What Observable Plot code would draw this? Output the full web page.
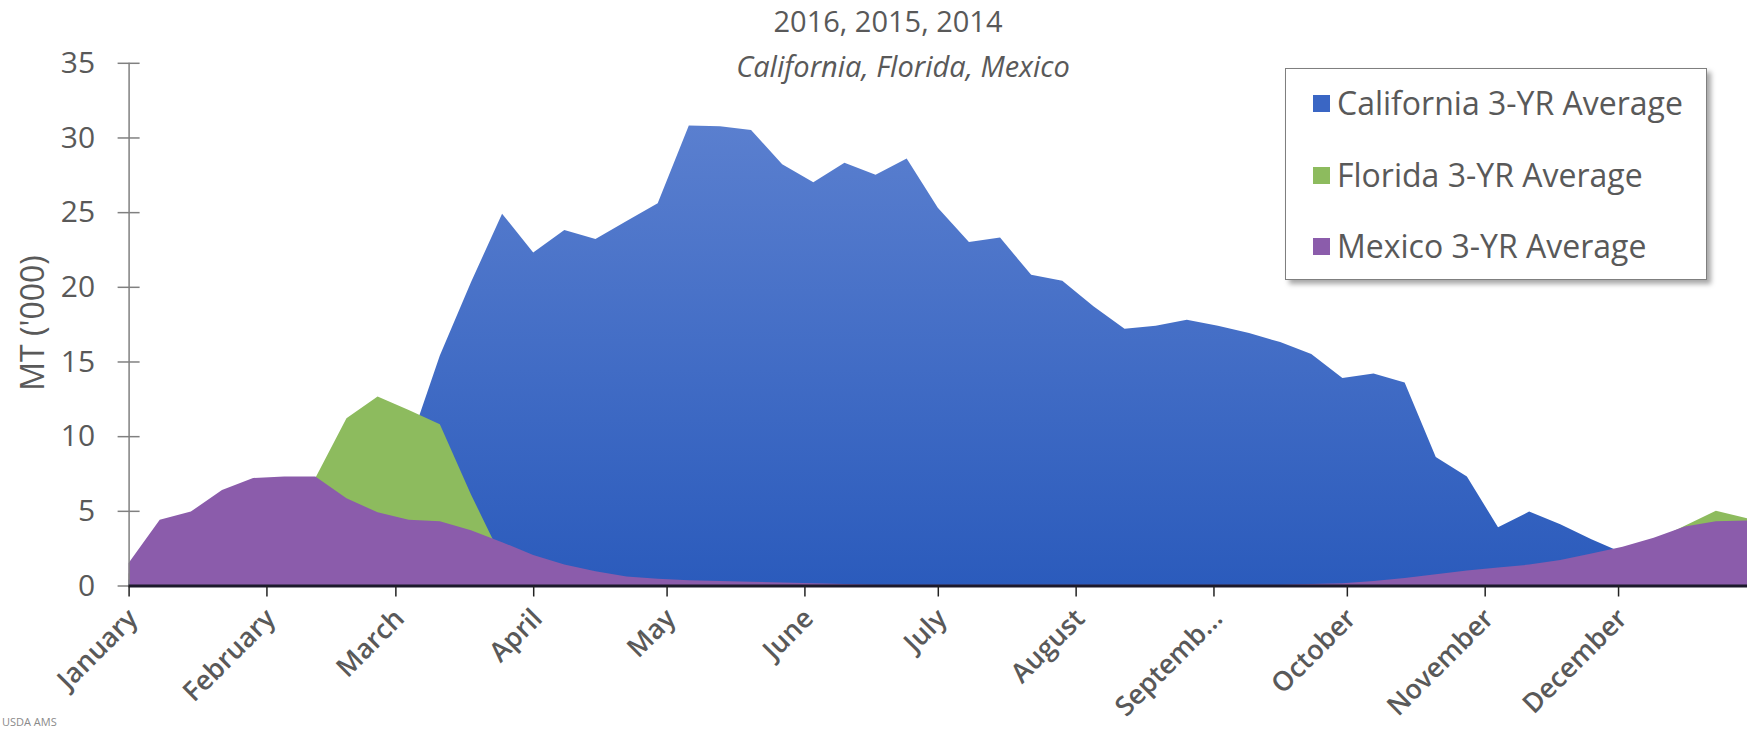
<!DOCTYPE html>
<html>
<head>
<meta charset="utf-8">
<script src="https://cdn.jsdelivr.net/npm/d3@7"></script>
<script src="https://cdn.jsdelivr.net/npm/@observablehq/plot@0.6"></script>
<style>
  body { margin: 0; background: #fff; font-family: "Open Sans", sans-serif; }
  #wrap { position: relative; width: 1758px; height: 730px; overflow: hidden; }
  #chart { position: absolute; left: 0; top: 0; }
  .title { position: absolute; transform: translateX(-50%); white-space: nowrap; color: #595959; line-height: 1; }
  #t1 { left: 888px; top: 6px; font-size: 29px; }
  #t2 { left: 903px; top: 51px; font-size: 29px; font-style: italic; }
  #ylabel { position: absolute; left: 32px; top: 323px; transform: translate(-50%, -50%) rotate(-90deg);
            white-space: nowrap; font-size: 32px; color: #595959; line-height: 1; }
  #legend { position: absolute; left: 1285px; top: 68px; width: 420px; height: 210px; background: #fff;
            border: 1.5px solid #7f7f7f; box-shadow: 4px 4px 5px rgba(0,0,0,0.35); }
  .row { position: absolute; left: 0; height: 32px; line-height: 32px; font-size: 32px; color: #595959; white-space: nowrap; }
  .sw { position: absolute; left: 27px; top: 8px; width: 17px; height: 17px; }
  .lab { position: absolute; left: 51px; top: 0; }
  #source { position: absolute; left: 2px; top: 714px; font-size: 11px; color: #8a8a8a; }
</style>
</head>
<body>
<div id="wrap">
  <div id="chart"></div>
  <div class="title" id="t1">2016, 2015, 2014</div>
  <div class="title" id="t2">California, Florida, Mexico</div>
  <div id="ylabel">MT ('000)</div>
  <div id="legend"></div>
  <div id="source">USDA AMS</div>
</div>
<script>
// Weekly 3-year average shipments, thousand MT (week 1 starts January 1)
const california = [
  0.4, 0.5, 0.6, 0.8, 1.0, 1.5, 2.5, 4.5, 7.0, 9.3,
  15.4, 20.3, 24.9, 22.3, 23.8, 23.2, 24.4, 25.6, 30.8, 30.75,
  30.5, 28.2, 27.0, 28.3, 27.5, 28.6, 25.3, 23.0, 23.3, 20.8,
  20.4, 18.7, 17.2, 17.4, 17.8, 17.4, 16.9, 16.3, 15.5, 13.9,
  14.2, 13.6, 8.6, 7.3, 3.9, 4.95, 4.1, 3.1, 2.2, 1.8,
  1.4, 1.0, 0.8
];
const florida = [
  0.8, 2.5, 3.5, 4.5, 5.5, 6.5, 7.2, 11.2, 12.65, 11.75,
  10.8, 6.1, 1.8, 0.8, 0.4, 0.2, 0, 0, 0, 0,
  0, 0, 0, 0, 0, 0, 0, 0, 0, 0,
  0, 0, 0, 0, 0, 0, 0, 0, 0, 0,
  0, 0, 0.1, 0.3, 0.6, 1.0, 1.4, 1.8, 2.3, 3.0,
  4.0, 5.0, 4.5
];
const mexico = [
  1.5, 4.4, 4.95, 6.4, 7.2, 7.3, 7.3, 5.85, 4.9, 4.4,
  4.3, 3.7, 2.9, 2.05, 1.4, 0.95, 0.6, 0.45, 0.35, 0.3,
  0.25, 0.2, 0.15, 0.1, 0.05, 0.05, 0.05, 0.05, 0.05, 0.05,
  0.05, 0.05, 0.05, 0.05, 0.05, 0.05, 0.05, 0.05, 0.1, 0.15,
  0.3, 0.5, 0.75, 1.0, 1.2, 1.4, 1.7, 2.15, 2.6, 3.2,
  3.95, 4.3, 4.35
];
const seriesNames = ["California 3-YR Average", "Florida 3-YR Average", "Mexico 3-YR Average"];
const seriesColors = ["#3a66c4", "#8dbb5e", "#8b5cab"];
const monthLabels = ["January", "February", "March", "April", "May", "June",
                     "July", "August", "Septemb...", "October", "November", "December"];
const yTicks = [0, 5, 10, 15, 20, 25, 30, 35];

// Week start dates along a calendar year
const yearStart = new Date(Date.UTC(2016, 0, 1));
const weeks = california.map((_, i) => d3.utcDay.offset(yearStart, 7 * i));
const toRows = (values) => values.map((v, i) => ({date: weeks[i], value: v}));
const monthStarts = d3.utcMonths(yearStart, weeks[weeks.length - 1]);

const chart = Plot.plot({
  width: 1758,
  height: 730,
  marginLeft: 128.6,
  marginRight: 11,
  marginTop: 62.8,
  marginBottom: 144.5,
  style: {fontFamily: "Open Sans, sans-serif", color: "#595959", background: "transparent"},
  x: {type: "utc", domain: [weeks[0], weeks[weeks.length - 1]]},
  y: {domain: [0, 35]},
  marks: [
    Plot.areaY(toRows(california), {x: "date", y1: 0, y2: "value", fill: "url(#caFill)"}),
    Plot.areaY(toRows(florida), {x: "date", y1: 0, y2: "value", fill: seriesColors[1]}),
    Plot.areaY(toRows(mexico), {x: "date", y1: 0, y2: "value", fill: seriesColors[2]}),
    Plot.ruleX([weeks[0]], {y1: 0, y2: 35, stroke: "#808080", strokeWidth: 1.5}),
    Plot.axisY({ticks: yTicks, tickSize: 22, dx: 11, tickPadding: 23, fontSize: 30,
                stroke: "#808080", strokeWidth: 1.5, fill: "#595959", label: null}),
    Plot.ruleY([0], {stroke: "#1c1a2c", strokeWidth: 3}),
    // month tick marks
    Plot.axisX({ticks: monthStarts, tickFormat: () => "", tickSize: 11,
                stroke: "#222", strokeWidth: 1.5, label: null}),
    // rotated month labels
    Plot.axisX({ticks: monthStarts, tickFormat: (d) => monthLabels[d.getUTCMonth()],
                tickSize: 0, tickPadding: 28, dx: 4, tickRotate: -45, fontSize: 27, fontWeight: 600,
                fill: "#595959", label: null})
  ]
});

// Vertical gradient for the California area
const defs = d3.select(chart).insert("defs", ":first-child");
const grad = defs.append("linearGradient").attr("id", "caFill")
  .attr("x1", 0).attr("y1", 0).attr("x2", 0).attr("y2", 1);
grad.append("stop").attr("offset", "0%").attr("stop-color", "#5a7fcf");
grad.append("stop").attr("offset", "100%").attr("stop-color", "#2b5bbc");

document.getElementById("chart").appendChild(chart);

// Legend
const legend = d3.select("#legend");
seriesNames.forEach((name, i) => {
  const row = legend.append("div").attr("class", "row").style("top", `${18 + i * 71.7}px`).style("width", "100%");
  row.append("div").attr("class", "sw").style("background", seriesColors[i]);
  row.append("div").attr("class", "lab").text(name);
});
</script>
</body>
</html>
